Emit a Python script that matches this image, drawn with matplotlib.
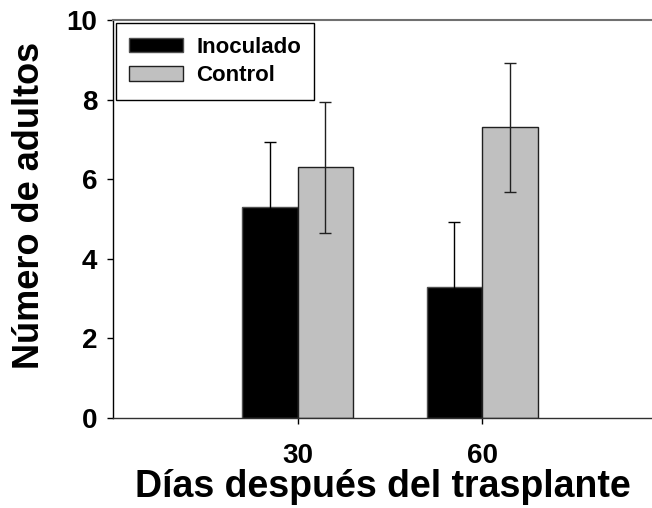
import numpy as np
import matplotlib.pyplot as plt

plt.rcParams['font.family'] = ['Liberation Sans', 'DejaVu Sans']
plt.rcParams['font.weight'] = 'bold'

dias = ['30', '60']
inoculado = [5.3, 3.3]
inoculado_err = [1.63, 1.63]
control = [6.3, 7.3]
control_err = [1.64, 1.63]

x = np.arange(1, len(dias) + 1)
w = 0.30

fig = plt.figure(figsize=(6.52, 5.08), dpi=100)
ax = fig.add_axes([113/652, 1 - 418/508, 1 - 113/652, (418 - 20)/508])

ax.bar(x - w/2, inoculado, w, color='black', edgecolor='#505050', linewidth=1,
       label='Inoculado', zorder=2)
ax.bar(x + w/2, control, w, color='#c0c0c0', edgecolor='#202020', linewidth=1,
       label='Control', zorder=2)
ax.errorbar(x - w/2, inoculado, yerr=inoculado_err, fmt='none', ecolor='black',
            elinewidth=1, capsize=4.3, capthick=1, zorder=3)
ax.errorbar(x + w/2, control, yerr=control_err, fmt='none', ecolor='#202020',
            elinewidth=1, capsize=4.3, capthick=1, zorder=3)

ax.set_xlim(0, 2.92)
ax.set_ylim(0, 10)
ax.set_xticks(x)
ax.set_xticklabels(dias)
ax.set_yticks([0, 2, 4, 6, 8, 10])

ax.spines['right'].set_visible(False)
ax.spines['top'].set_color('#707070')
ax.spines['top'].set_linewidth(1.5)
ax.spines['left'].set_linewidth(1)
ax.spines['bottom'].set_linewidth(1)
ax.spines['bottom'].set_color('#303030')

ax.tick_params(axis='y', direction='out', length=4.3, width=1, pad=7, labelsize=20)
ax.tick_params(axis='x', direction='out', length=4.3, width=1, pad=14, labelsize=20)
for lab in ax.get_xticklabels() + ax.get_yticklabels():
    lab.set_fontweight('bold')

ax.set_xlabel('Días después del trasplante', fontsize=27, fontweight='bold', labelpad=0)
ax.set_ylabel('Número de adultos', fontsize=26, fontweight='bold')
ax.yaxis.set_label_coords(-0.123, 0.535)

leg = ax.legend(loc='upper left', bbox_to_anchor=(0.0056, 0.992), borderaxespad=0,
                fontsize=16, handlelength=2.4, handleheight=0.6, fancybox=False,
                framealpha=1, edgecolor='black', borderpad=0.6, labelspacing=0.35,
                handletextpad=0.6)
leg.get_frame().set_linewidth(1)
for t in leg.get_texts():
    t.set_fontweight('bold')

fig.savefig('out.png', dpi=100)
